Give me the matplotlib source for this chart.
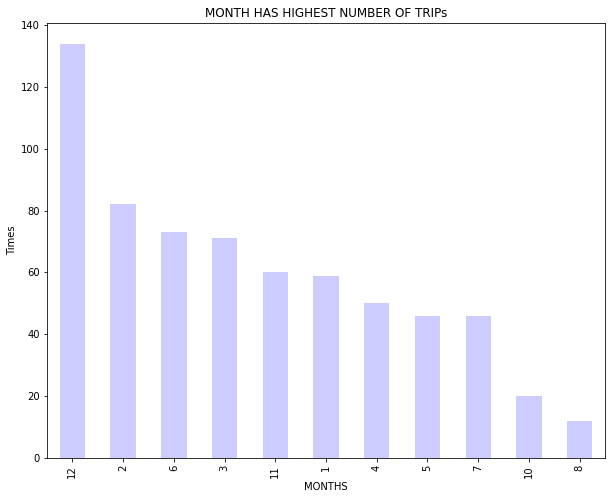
import matplotlib
matplotlib.use("Agg")
import matplotlib.pyplot as plt
import numpy as np

months = ["12", "2", "6", "3", "11", "1", "4", "5", "7", "10", "8"]
trips = [134, 82, 73, 71, 60, 59, 50, 46, 46, 20, 12]

fig = plt.figure(figsize=(612 / 72, 499 / 72), dpi=72)
ax = fig.add_axes([47 / 612, 41 / 499, 558 / 612, 435 / 499])
x = np.arange(len(months))
ax.bar(x, trips, width=0.5, color="blue", alpha=0.2)
ax.set_xticks(x)
ax.set_xticklabels(months, rotation=90)
ax.set_xlim(-0.5, len(months) - 0.5)
ax.set_ylim(0, 140.7)
ax.set_title("MONTH HAS HIGHEST NUMBER OF TRIPs")
ax.set_xlabel("MONTHS")
ax.set_ylabel("Times")
fig.savefig("out.png", dpi=72)
